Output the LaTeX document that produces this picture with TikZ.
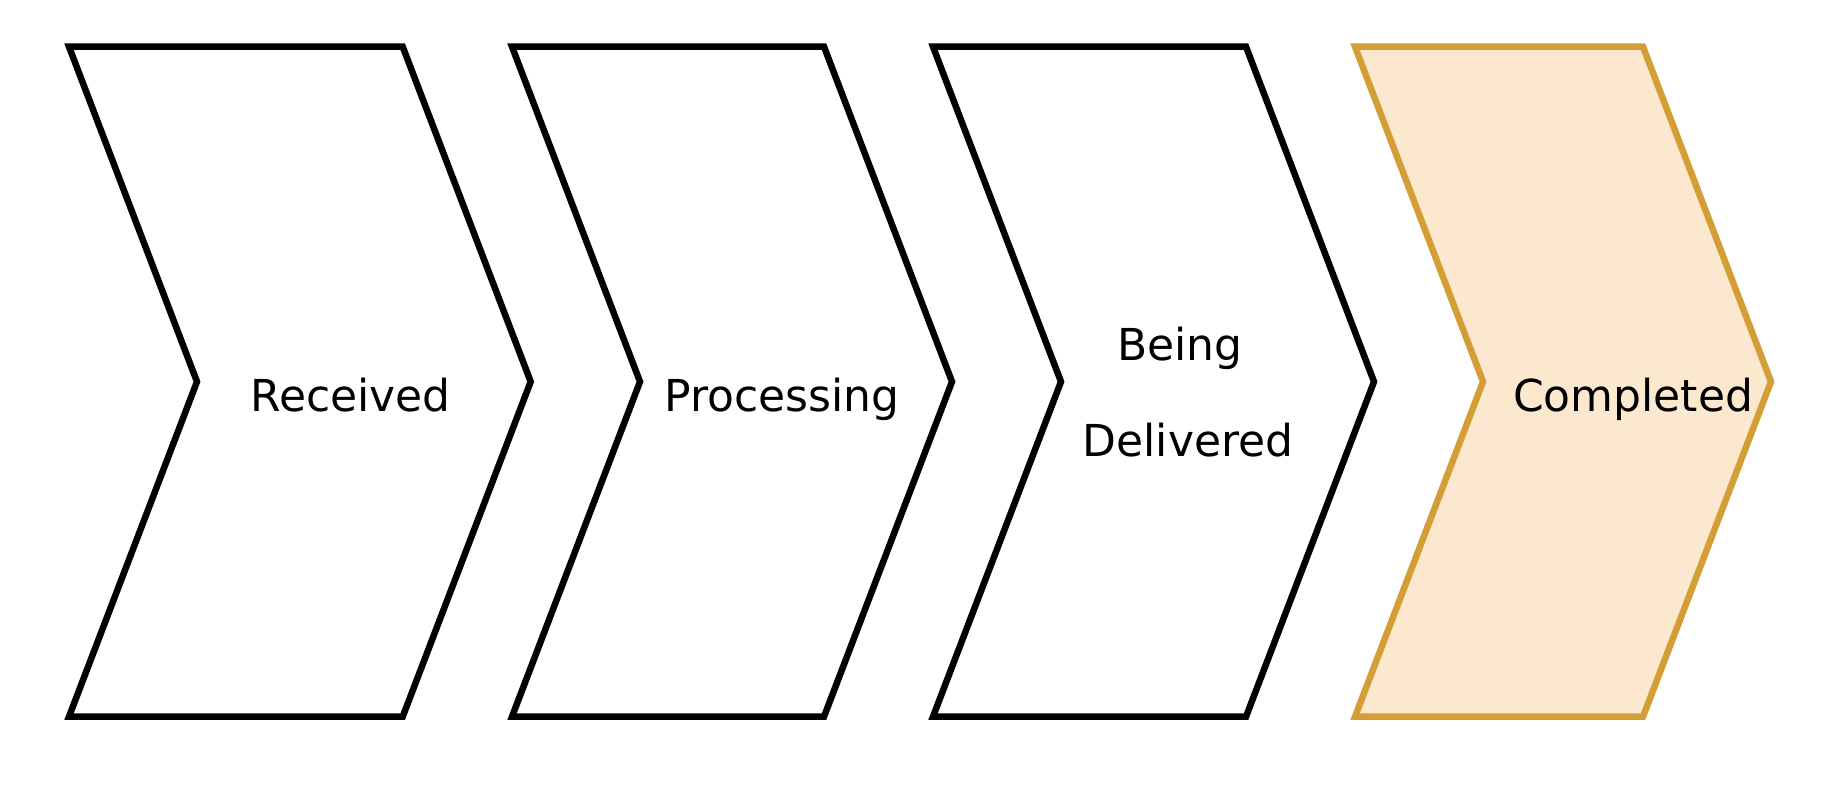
\documentclass[tikz,border=0pt]{standalone}
\usepackage{fontspec}
\setmainfont{DejaVu Sans}
\begin{document}
\begin{tikzpicture}[x=1pt,y=-1pt,
  stepshape/.style={draw=black,line width=6.5pt,miter limit=10,line join=miter},
  donestep/.style={stepshape,draw=doneline,fill=donefill},
  steplabel/.style={anchor=base,inner sep=0pt,font=\fontsize{44}{50}\selectfont}]
\definecolor{doneline}{HTML}{D49E37}
\definecolor{donefill}{HTML}{FCE8CF}
\useasboundingbox (0,0) rectangle (1832,802);
% chevron outline: top-left x, top-right x, point depth 128
\newcommand{\chevronpath}[2]{(#1,46.7) -- (#2,46.7) -- (#2+128,381.7) -- (#2,716.7) -- (#1,716.7) -- (#1+128,381.7) -- cycle}
\draw[stepshape] \chevronpath{69}{402.7};
\draw[stepshape] \chevronpath{512}{824};
\draw[stepshape] \chevronpath{933}{1246};
\draw[donestep] \chevronpath{1355}{1643};
\node[steplabel] (received) at (350.5,411.7) {Received};
\node[steplabel] (processing) at (782,411.7) {Processing};
\node[steplabel] (being) at (1180,360) {Being};
\node[steplabel] (delivered) at (1188,456.7) {Delivered};
\node[steplabel] (completed) at (1633,411.7) {Completed};
\end{tikzpicture}
\end{document}
